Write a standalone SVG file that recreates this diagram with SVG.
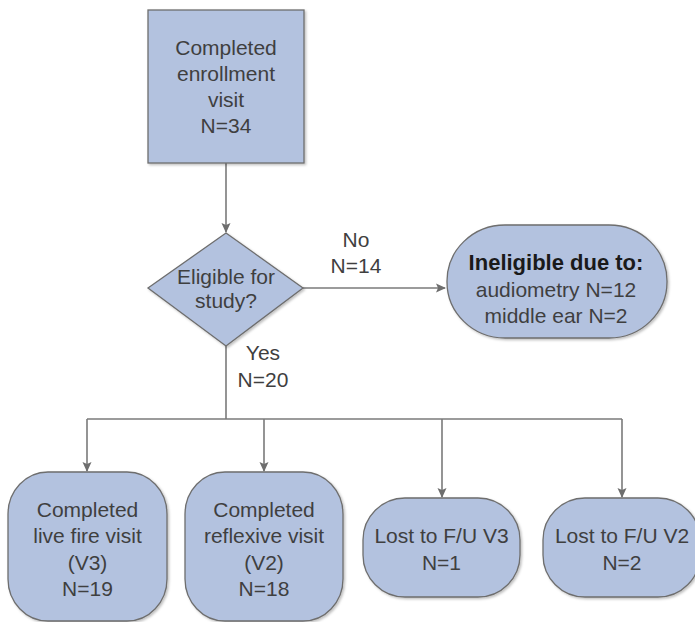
<svg xmlns="http://www.w3.org/2000/svg" width="695" height="622" viewBox="0 0 695 622">
<defs>
<marker id="arr" markerWidth="10" markerHeight="10" refX="9" refY="5" orient="auto" markerUnits="userSpaceOnUse">
<path d="M0,0.5 L10,5 L0,9.5 L2,5 Z" fill="#6e6e6e"/>
</marker>
<filter id="sh" x="-10%" y="-10%" width="125%" height="125%">
<feDropShadow dx="1.5" dy="1.5" stdDeviation="1" flood-color="#000" flood-opacity="0.25"/>
</filter>
</defs>
<style>
.n{fill:#b3c2df;stroke:#6e6e6e;stroke-width:1.3;filter:url(#sh)}
.t{font-family:"Liberation Sans",Arial,sans-serif;font-size:21px;fill:#3f3f3f;text-anchor:middle}
.b{font-weight:bold;fill:#1a1a1a;font-size:22px}
.c{fill:none;stroke:#7a7a7a;stroke-width:1.6}
</style>
<rect width="695" height="622" fill="#fff"/>
<g id="connectors">
<path class="c" d="M226,163 V232" marker-end="url(#arr)"/>
<path class="c" d="M303,288 H445" marker-end="url(#arr)"/>
<path class="c" d="M226,346 V419"/>
<path class="c" d="M87,419 H622"/>
<path class="c" d="M87,419 V471" marker-end="url(#arr)"/>
<path class="c" d="M264,419 V471" marker-end="url(#arr)"/>
<path class="c" d="M442,419 V497" marker-end="url(#arr)"/>
<path class="c" d="M622,419 V497" marker-end="url(#arr)"/>
<text class="t" x="356" y="247">No</text>
<text class="t" x="356" y="273">N=14</text>
<text class="t" x="263" y="360">Yes</text>
<text class="t" x="263" y="387">N=20</text>
</g>
<g id="enroll">
<rect class="n" x="148" y="10" width="156" height="153"/>
<text class="t" x="226" y="55">Completed</text>
<text class="t" x="226" y="81">enrollment</text>
<text class="t" x="226" y="107">visit</text>
<text class="t" x="226" y="133">N=34</text>
</g>
<g id="eligible">
<polygon class="n" points="226,233 303,288 226,346 148,288"/>
<text class="t" x="226" y="284">Eligible for</text>
<text class="t" x="226" y="308">study?</text>
</g>
<g id="ineligible">
<rect class="n" x="447" y="225" width="220" height="113" rx="58" ry="56"/>
<text class="t b" x="556" y="270">Ineligible due to:</text>
<text class="t" x="556" y="297">audiometry N=12</text>
<text class="t" x="556" y="323">middle ear N=2</text>
</g>
<g id="livefire">
<rect class="n" x="8" y="472" width="159" height="149" rx="40" ry="42"/>
<text class="t" x="87.5" y="517">Completed</text>
<text class="t" x="87.5" y="543">live fire visit</text>
<text class="t" x="87.5" y="570">(V3)</text>
<text class="t" x="87.5" y="596">N=19</text>
</g>
<g id="reflexive">
<rect class="n" x="185" y="472" width="158" height="149" rx="40" ry="42"/>
<text class="t" x="264" y="517">Completed</text>
<text class="t" x="264" y="543">reflexive visit</text>
<text class="t" x="264" y="570">(V2)</text>
<text class="t" x="264" y="596">N=18</text>
</g>
<g id="lostv3">
<rect class="n" x="363" y="498" width="157" height="99" rx="42" ry="42"/>
<text class="t" x="441.5" y="543">Lost to F/U V3</text>
<text class="t" x="441.5" y="570">N=1</text>
</g>
<g id="lostv2">
<rect class="n" x="543" y="498" width="157" height="99" rx="42" ry="42"/>
<text class="t" x="622" y="543">Lost to F/U V2</text>
<text class="t" x="622" y="570">N=2</text>
</g>
</svg>
